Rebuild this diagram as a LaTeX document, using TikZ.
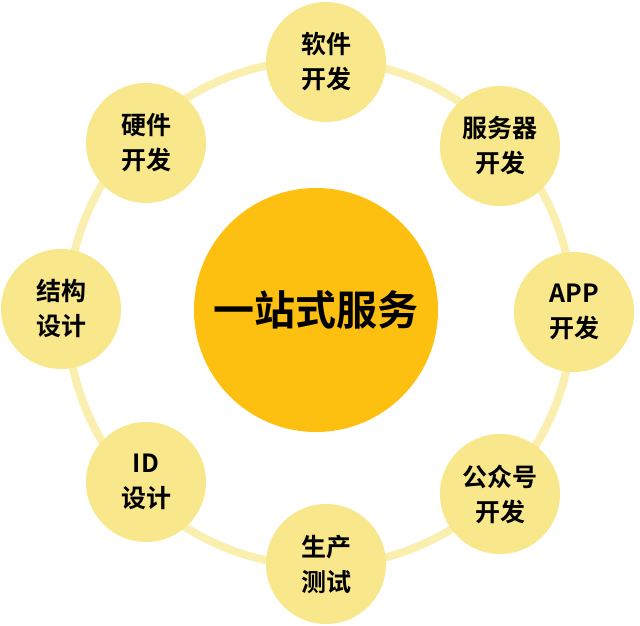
\documentclass[tikz,border=0pt]{standalone}
\usepackage{fontspec}
\setmainfont{Noto Sans CJK SC Bold}
\definecolor{ringc}{HTML}{FBEFB0}
\definecolor{satc}{HTML}{F9E78B}
\definecolor{hubc}{HTML}{FDC010}
\begin{document}
\begin{tikzpicture}[x=1pt,y=1pt,
  sat/.style={circle,fill=satc,minimum size=120pt,inner sep=0pt,align=center,
    font=\fontsize{25}{35}\selectfont,text=black},
  hub/.style={circle,fill=hubc,minimum size=244pt,inner sep=0pt,
    font=\fontsize{41}{48}\selectfont,text=black}]
\useasboundingbox (0,0) rectangle (640,626);
\fill[white] (0,0) rectangle (640,626);
\coordinate (ringc) at (320,313);
\draw[ringc,line width=8pt] (ringc) circle[radius=253];
\node[hub] (hub) at (316,316) {一站式服务};
\node[sat] (s1) at (326,564) {软件\\开发};
\node[sat] (s2) at (500,480) {服务器\\开发};
\node[sat] (s3) at (574,314) {APP\\开发};
\node[sat] (s4) at (500,132) {公众号\\开发};
\node[sat] (s5) at (326,62) {生产\\测试};
\node[sat] (s6) at (146,144) {ID\\设计};
\node[sat] (s7) at (61,317) {结构\\设计};
\node[sat] (s8) at (146,483) {硬件\\开发};
\end{tikzpicture}
\end{document}
